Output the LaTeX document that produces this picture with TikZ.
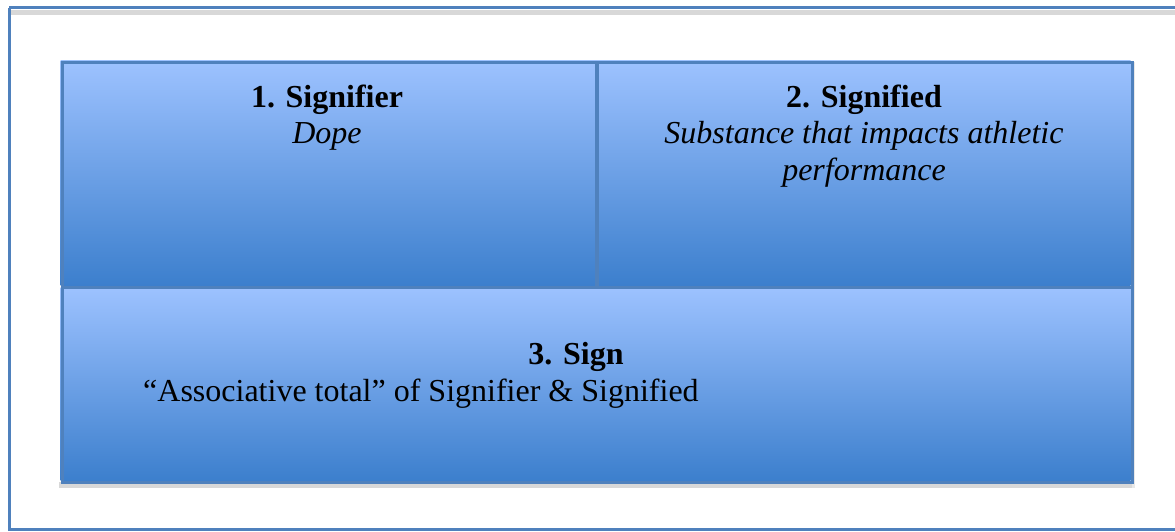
\documentclass[tikz,border=0pt]{standalone}
\usepackage{fontspec}
\setmainfont{Liberation Serif}
\definecolor{frameblue}{RGB}{79,129,189}
\definecolor{celltop}{RGB}{157,194,255}
\definecolor{cellbot}{RGB}{60,127,205}
\definecolor{shadowgray}{RGB}{216,216,216}
\tikzset{
  cell/.style={draw=frameblue, line width=3pt, top color=celltop, bottom color=cellbot, shading angle=0},
  txt/.style={inner sep=0pt, font=\fontsize{32}{37}\selectfont, anchor=base},
}
\begin{document}
\begin{tikzpicture}[x=1pt,y=-1pt]
\useasboundingbox (0,0) rectangle (1175,531);
\clip (0,0) rectangle (1175,531);
% outer frame
\fill[shadowgray] (10,9.5) rectangle (1180,15);
\draw[frameblue, line width=3pt] (9,7.5) -- (1180,7.5);
\draw[frameblue, line width=3pt] (9,7.5) -- (9,529.5) -- (1180,529.5);
% shadow of inner box
\fill[shadowgray] (59,482) rectangle (1134,488);
\fill[shadowgray!60] (1132,62) rectangle (1135,488);
% cells
\shade[top color=celltop, bottom color=cellbot] (60.5,60.5) rectangle (595,285.5);
\shade[top color=celltop, bottom color=cellbot] (595,60.5) rectangle (1130.5,285.5);
\shade[top color=celltop, bottom color=cellbot] (60.5,287) rectangle (1130.5,480.5);
\coordinate (c1nw) at (60.5,60.5);
\coordinate (c2se) at (1130.5,285.5);
\node[draw=frameblue, line width=3pt, inner sep=0pt, minimum width=535pt, minimum height=225pt, anchor=north west] (cell1) at (60.5,60.5) {};
\node[draw=frameblue, line width=3pt, inner sep=0pt, minimum width=535.5pt, minimum height=225pt, anchor=north west] (cell2) at (595,60.5) {};
\node[draw=frameblue, line width=3pt, inner sep=0pt, minimum width=1070pt, minimum height=195pt, anchor=north west] (cell3) at (60.5,285.5) {};
% texts
\node[txt] (t1) at (327,107) {\bfseries 1. Signifier};
\node[txt] (t1b) at (327,143) {\itshape Dope};
\node[txt] (t2) at (864,107) {\bfseries 2. Signified};
\node[txt] (t2b) at (864,143) {\itshape Substance that impacts athletic};
\node[txt] (t2c) at (864,180) {\itshape performance};
\node[txt] (t3) at (576,364) {\bfseries 3. Sign};
\node[txt, anchor=base west] (t3b) at (143,401) {“Associative total” of Signifier \& Signified};
\end{tikzpicture}
\end{document}
